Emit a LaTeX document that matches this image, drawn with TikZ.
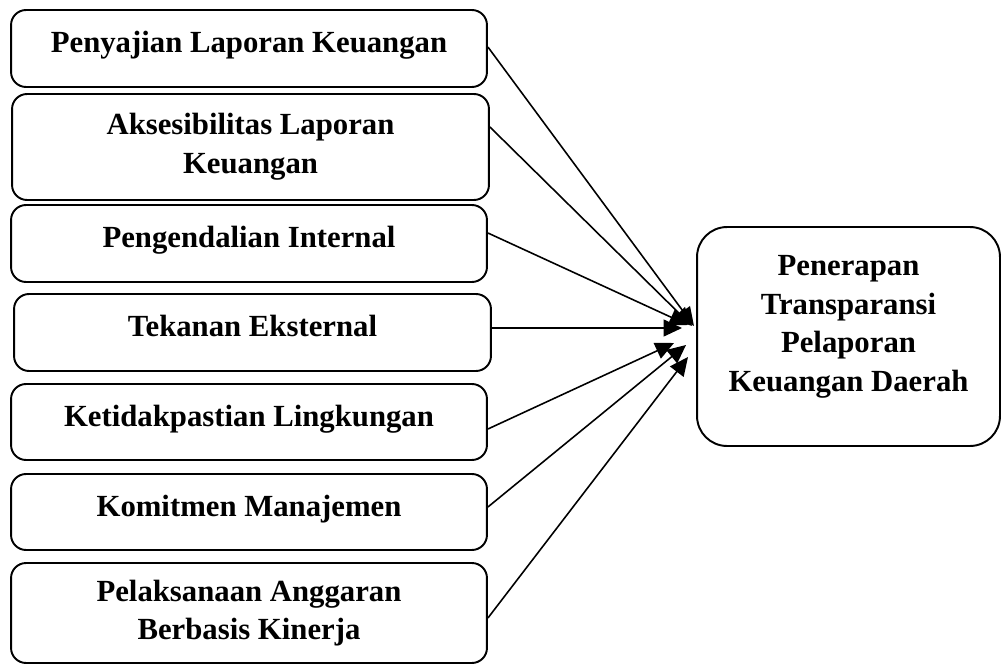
\documentclass[tikz,border=0pt]{standalone}
\usepackage{fontspec}
\setmainfont{Liberation Serif}
\usetikzlibrary{arrows.meta, positioning, calc}

\begin{document}
\begin{tikzpicture}[x=0.02cm, y=-0.02cm,
    var/.style={draw, line width=1.1pt, rounded corners=0.3cm, minimum width=9.52cm,
      minimum height=1.54cm, inner sep=2pt, align=center,
      font=\bfseries\fontsize{17.5}{22}\selectfont},
    oneline/.style={text height=12pt, text depth=7.4pt},
    >={Triangle[length=0.37cm, width=0.34cm]}]
  \useasboundingbox (0,0) rectangle (1001,666);
  \clip (0,0) rectangle (1001,666);

  % variabel independen
  \node[var, oneline] (penyajian) at (249,48.5) {Penyajian Laporan Keuangan};
  \node[var, minimum width=9.54cm, minimum height=2.12cm] (aksesibilitas) at (250.5,147) {Aksesibilitas Laporan\\Keuangan};
  \node[var, oneline] (pengendalian) at (249,243.5) {Pengendalian Internal};
  \node[var, oneline, minimum width=9.54cm] (tekanan) at (252.5,332.5) {Tekanan Eksternal};
  \node[var, oneline, minimum height=1.52cm] (ketidakpastian) at (249,422) {Ketidakpastian Lingkungan};
  \node[var, oneline, minimum height=1.52cm] (komitmen) at (249,512) {Komitmen Manajemen};
  \node[var, minimum height=2cm] (pelaksanaan) at (249,613) {Pelaksanaan Anggaran\\Berbasis Kinerja};

  % variabel dependen
  \node[var, minimum width=6.06cm, minimum height=4.38cm, rounded corners=0.6cm, text depth=15pt] (penerapan) at (848.5,336.5) {Penerapan\\Transparansi\\Pelaporan\\Keuangan Daerah};

  \coordinate (t1) at (694,326);
  \coordinate (t2) at (692,326);
  \coordinate (t3) at (688,325);
  \coordinate (t4) at (682,328);
  \coordinate (t5) at (674,343);
  \coordinate (t6) at (686,345);
  \coordinate (t7) at (688,357);

  \path[->, line width=0.9pt]
  ($(penyajian.east)+(0,-1.5)$) edge (t1)
  ($(aksesibilitas.east)+(0,-20)$) edge (t2)
  ($(pengendalian.east)+(0,-10.5)$) edge (t3)
  ($(tekanan.east)+(0,-4.5)$) edge (t4)
  ($(ketidakpastian.east)+(0,7)$) edge (t5)
  ($(komitmen.east)+(0,-5)$) edge (t6)
  ($(pelaksanaan.east)+(0,5)$) edge (t7);
\end{tikzpicture}
\end{document}
